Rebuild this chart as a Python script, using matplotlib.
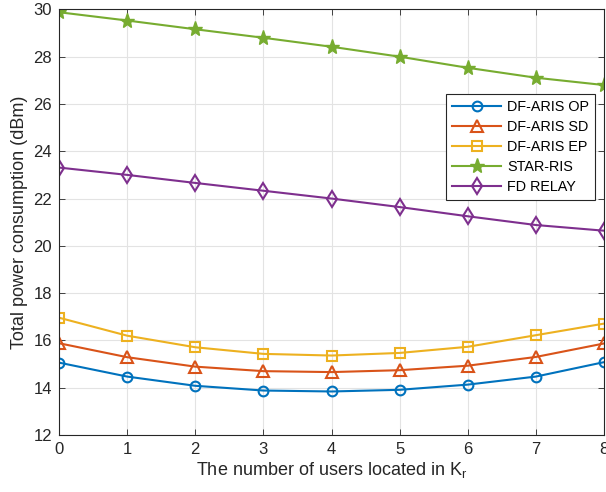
import numpy as np
import matplotlib
matplotlib.use('Agg')
from matplotlib import pyplot as plt

plt.rcParams['font.family'] = ['Liberation Sans', 'DejaVu Sans']

## data
users = [0, 1, 2, 3, 4, 5, 6, 7, 8]
df_aris_op = [15.06, 14.47, 14.08, 13.88, 13.84, 13.91, 14.13, 14.47, 15.08]
df_aris_sd = [15.88, 15.29, 14.89, 14.70, 14.66, 14.74, 14.93, 15.30, 15.87]
df_aris_ep = [16.96, 16.20, 15.71, 15.43, 15.36, 15.47, 15.73, 16.22, 16.71]
star_ris   = [29.88, 29.53, 29.16, 28.80, 28.42, 28.00, 27.53, 27.11, 26.80]
fd_relay   = [23.31, 23.00, 22.66, 22.33, 22.00, 21.64, 21.25, 20.88, 20.64]

fig = plt.figure(figsize=(6.06, 4.92), dpi=100)
ax = fig.add_axes([0.0974, 0.1159, 0.8993, 0.865])

ax.plot(users, df_aris_op, color='#0072BD', linewidth=1.5, marker='o', markersize=7,
        markerfacecolor='none', markeredgewidth=1.5, label='DF-ARIS OP')
ax.plot(users, df_aris_sd, color='#D95319', linewidth=1.5, marker='^', markersize=8,
        markerfacecolor='none', markeredgewidth=1.5, label='DF-ARIS SD')
ax.plot(users, df_aris_ep, color='#EDB120', linewidth=1.5, marker='s', markersize=7,
        markerfacecolor='none', markeredgewidth=1.5, label='DF-ARIS EP')
ax.plot(users, star_ris, color='#77AC30', linewidth=1.5, marker='*', markersize=11,
        markeredgewidth=1.0, label='STAR-RIS')
ax.plot(users, fd_relay, color='#7E2F8E', linewidth=1.5, marker='d', markersize=8,
        markerfacecolor='none', markeredgewidth=1.5, label='FD RELAY')

## axes appearance, MATLAB like
ax.set_xlim(0, 8)
ax.set_ylim(12, 30)
ax.set_xticks(np.arange(0, 9, 1))
ax.set_yticks(np.arange(12, 31, 2))
ax.grid(True, color='#E3E3E3', linewidth=0.8)
ax.set_axisbelow(True)
ax.tick_params(direction='in', top=True, right=True, labelsize=12,
               colors='#262626', length=4, width=0.6, pad=5)
for s in ax.spines.values():
    s.set_color('#262626')
    s.set_linewidth(0.8)
ax.set_xlabel('The number of users located in K$_\\mathregular{r}$', fontsize=13, color='#262626', labelpad=2)
ax.set_ylabel('Total power consumption (dBm)', fontsize=13, color='#262626', labelpad=4)

leg = ax.legend(loc='upper right', bbox_to_anchor=(0.983, 0.801), borderaxespad=0,
                fontsize=10.4, handlelength=3.4, labelspacing=0.42, fancybox=False,
                framealpha=1, edgecolor='#262626', borderpad=0.4, handletextpad=0.4)
leg.get_frame().set_linewidth(0.8)

plt.savefig('out.png', dpi=100)
